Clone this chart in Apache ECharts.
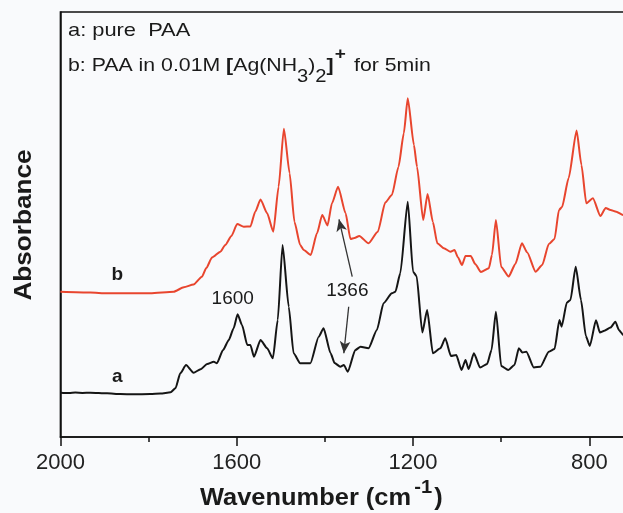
<!DOCTYPE html>
<html>
<head>
<meta charset="utf-8">
<script src="https://cdn.jsdelivr.net/npm/echarts@6/dist/echarts.min.js"></script>
<style>
html,body{margin:0;padding:0;background:#f9fafc;}
#chart{width:623px;height:513px;}
</style>
</head>
<body>
<div id="chart"></div>
<script>
// Spectrum a: pure PAA
const waveA = [2000,1980,1966,1950,1932,1894,1864,1834,1796,1773,1750,1739,1728,1715,1698,1682,1667,1652,1645,1631,1618,1607,1598,1588,1576,1569,1561,1546,1531,1518,1507,1496,1482,1471,1456,1433,1414,1403,1387,1378,1365,1357,1348,1331,1319,1301,1282,1267,1248,1240,1229,1212,1200,1192,1179,1168,1155,1138,1127,1114,1102,1090,1081,1074,1062,1048,1032,1022,1012,1000,984,970,960,952,943,926,911,892,879,868,863,851,843,831,819,808,799,785,776,766,752,741,733,723,714];
const absA = [44.3,44.0,44.4,44.1,44.3,43.7,43,42.7,43,43.5,44.7,48.7,63.7,72,64.3,67.7,73,75.3,73.7,87,97,108.7,122.7,112,92,92,80.3,97,88.7,78.7,117,192,130.3,83.7,73.7,73.7,100.3,108.7,83.7,74,70.3,72,65.3,87,90.3,88.7,107,133.7,143.7,145.3,163.7,235.3,165.3,161,104.5,127,83.7,88.7,98.7,81,82,67,77,68,83.7,69.5,73,87,125.3,71,67,72,88.7,84.5,85.3,69.5,70.3,85.3,88,117,110.3,134.5,137,170.3,137,101,91,116.7,104.5,106.2,109.5,115.3,107,102,100];
// Spectrum b: PAA in 0.01M [Ag(NH3)2]+ for 5 min
const waveB = [2000,1932,1894,1841,1796,1743,1720,1698,1679,1669,1656,1637,1626,1612,1599,1584,1569,1558,1546,1531,1517,1505,1493,1480,1469,1456,1448,1432,1418,1406,1394,1384,1370,1353,1342,1333,1322,1301,1280,1263,1248,1233,1221,1212,1198,1191,1177,1167,1155,1145,1130,1115,1106,1098,1089,1081,1069,1059,1046,1028,1021,1012,1000,983,968,953,941,922,907,892,879,869,862,847,829,818,807,792,775,763,752,739,723,714];
const absB = [145.3,144.5,143.7,143.7,143.7,145.3,149.7,152.5,160.3,169,179.5,185.3,192,201,213,210.3,210.5,225.3,237.5,223.7,205.3,250.3,308.3,263.7,215,192,187,182,203.7,222,211.5,233.7,250.3,223.7,198,199,201,193.7,205.3,234.5,242,270.3,303.7,338.7,292,270.3,217,243,215,193.7,188.7,185.3,187,179.5,172,181,181,173,165,168.7,182,217,170,160.5,173,193.7,184.5,165.3,172,193,198,227,230,259,306.5,272,233.7,238.7,221,229,227,225.3,222,220];
// x-axis tick labels shown
const tickLabels = [2000, 1600, 1200, 800];
// annotations [wavenumber, absorbance, text]
const notes = [[1871, 162, 'b'], [1871, 60.3, 'a'], [1609, 138, '1600'], [1349, 146, '1366']];
const arrows = [[[1338, 160.3], [1368, 217.7]], [[1346, 130.3], [1357, 83.7]]];

const chart = echarts.init(document.getElementById('chart'), null, {renderer: 'canvas'});
const FONT = 'Liberation Sans, Arial, Helvetica, sans-serif';

const option = {
  backgroundColor: '#f9fafc',
  animation: false,
  grid: {left: 60.4, top: 12, bottom: 76, right: -142.7, outerBoundsMode: 'none', containLabel: false,
    show: true, borderColor: '#111', borderWidth: 1.5, backgroundColor: 'transparent'},
  xAxis: {
    type: 'value', inverse: true, min: 400, max: 2000, interval: 400,
    axisLine: {show: true, lineStyle: {color: '#111', width: 1.5}},
    axisTick: {show: true, inside: false, length: 9, lineStyle: {color: '#111', width: 1.5}},
    minorTick: {show: true, splitNumber: 2, length: 5, lineStyle: {color: '#111', width: 1.5}},
    splitLine: {show: false},
    axisLabel: {fontFamily: FONT, fontSize: 22, color: '#222', margin: 15,
      formatter: v => tickLabels.indexOf(v) >= 0 ? String(v) : ''}
  },
  yAxis: {
    type: 'value', min: 0, max: 425,
    axisLine: {show: true, lineStyle: {color: '#111', width: 1.5}},
    axisTick: {show: false}, axisLabel: {show: false}, splitLine: {show: false}
  },
  graphic: [
    {type: 'text', x: 24, y: 225, rotation: Math.PI / 2, scaleX: 1.09,
      style: {text: 'Absorbance', fontFamily: FONT, fontSize: 24, fontWeight: 'bold', fill: '#1a1a1a', align: 'center', verticalAlign: 'middle'}},
    {type: 'text', x: 200, y: 498, scaleX: 1.06,
      style: {text: '{m|Wavenumber (cm}{s|-1}{m|)}', align: 'left', verticalAlign: 'middle', fill: '#1a1a1a',
        rich: {
          m: {fontFamily: FONT, fontSize: 24, fontWeight: 'bold', lineHeight: 40, verticalAlign: 'middle', fill: '#1a1a1a'},
          s: {fontFamily: FONT, fontSize: 19, fontWeight: 'bold', lineHeight: 10, verticalAlign: 'top', fill: '#1a1a1a', padding: [0, 2, 0, 3]}
        }}},
    {type: 'text', x: 68, y: 31, scaleX: 1.15,
      style: {text: 'a: pure  PAA', fontFamily: FONT, fontSize: 19, fill: '#1a1a1a', align: 'left', verticalAlign: 'middle'}},
    {type: 'text', x: 68, y: 66, scaleX: 1.12,
      style: {text: '{m|b: PAA in 0.01M }{b|[}{m|Ag(NH}{s|3}{m|)}{s|2}{b|]}{p|+}{m| for 5min}', align: 'left', verticalAlign: 'middle',
        rich: {
          m: {fontFamily: FONT, fontSize: 19, lineHeight: 40, verticalAlign: 'middle', fill: '#1a1a1a'},
          b: {fontFamily: FONT, fontSize: 19, fontWeight: 'bold', lineHeight: 40, verticalAlign: 'middle', fill: '#1a1a1a'},
          s: {fontFamily: FONT, fontSize: 18, lineHeight: 30, verticalAlign: 'bottom', fill: '#1a1a1a'},
          p: {fontFamily: FONT, fontSize: 17, fontWeight: 'bold', lineHeight: 4, verticalAlign: 'top', fill: '#1a1a1a', padding: [0, 2, 0, 1]}
        }}}
  ],
  series: [
    {
      name: 'a', type: 'line', data: waveA.map((w, i) => [w, absA[i]]),
      showSymbol: false, smooth: 0.2, smoothMonotone: 'x',
      lineStyle: {color: '#151515', width: 2}, z: 3,
      markPoint: {
        symbol: 'circle', symbolSize: 0, silent: true,
        data: notes.map(n => ({coord: [n[0], n[1]], value: n[2],
          label: {show: true, position: 'inside', formatter: n[2], fontFamily: FONT,
            fontSize: 19, fontWeight: (n[2] === 'a' || n[2] === 'b') ? 'bold' : 'normal', color: '#1a1a1a'}}))
      },
      markLine: {
        silent: true, symbol: ['none', 'arrow'], symbolSize: [8, 12],
        lineStyle: {color: '#333', width: 1.3, type: 'solid'},
        label: {show: false},
        data: arrows.map(a => [{coord: a[0]}, {coord: a[1]}])
      }
    },
    {
      name: 'b', type: 'line', data: waveB.map((w, i) => [w, absB[i]]),
      showSymbol: false, smooth: 0.2, smoothMonotone: 'x',
      lineStyle: {color: '#e8452e', width: 2}, z: 2
    }
  ]
};
chart.setOption(option);
</script>
</body>
</html>
